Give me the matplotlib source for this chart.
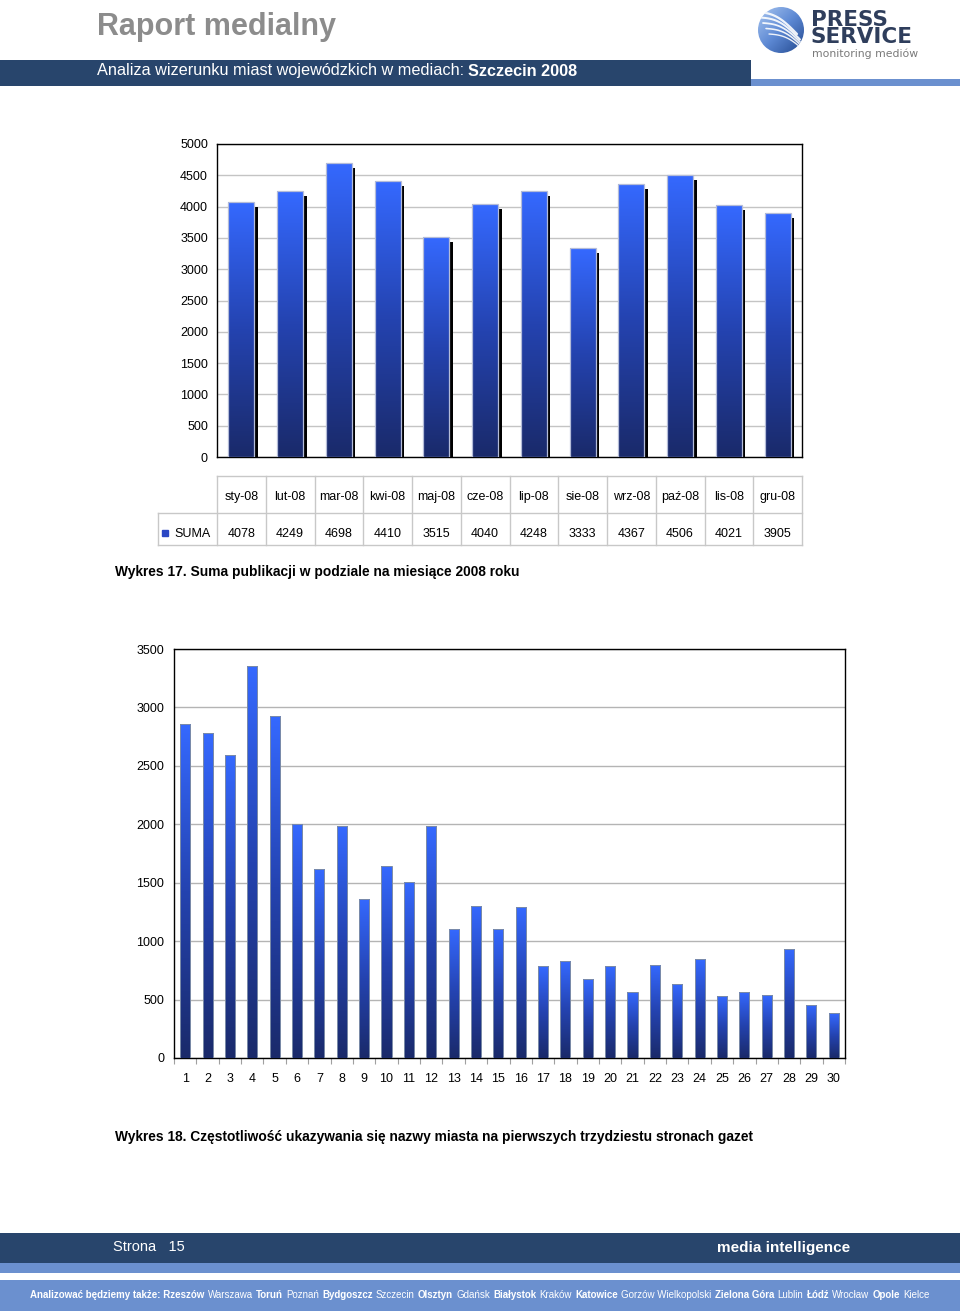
import numpy as np
import matplotlib
matplotlib.use('Agg')
import matplotlib.pyplot as plt
from matplotlib.patches import Rectangle, Circle
from matplotlib.colors import LinearSegmentedColormap
import matplotlib.patheffects as pe
from matplotlib.transforms import blended_transform_factory

plt.rcParams['font.family'] = ['Liberation Sans', 'DejaVu Sans']

# ---------------- data ----------------
months = ['sty-08', 'lut-08', 'mar-08', 'kwi-08', 'maj-08', 'cze-08',
          'lip-08', 'sie-08', 'wrz-08', 'paź-08', 'lis-08', 'gru-08']
suma = [4078, 4249, 4698, 4410, 3515, 4040, 4248, 3333, 4367, 4506, 4021, 3905]
series_name = 'SUMA'
y1_ticks = list(range(0, 5001, 500))

pages = list(range(1, 31))
page_counts = [2858, 2781, 2593, 3354, 2926, 2002, 1617, 1985, 1361, 1643,
               1506, 1985, 1104, 1301, 1104, 1292, 787, 830, 676, 787,
               565, 796, 633, 847, 531, 565, 539, 933, 454, 385]
y2_ticks = list(range(0, 3501, 500))

title = 'Raport medialny'
subtitle_parts = [('Analiza wizerunku miast wojewódzkich w mediach:', 'normal'),
                  ('Szczecin 2008', 'bold')]
caption1 = 'Wykres 17. Suma publikacji w podziale na miesiące 2008 roku'
caption2 = 'Wykres 18. Częstotliwość ukazywania się nazwy miasta na pierwszych trzydziestu stronach gazet'
page_label = 'Strona   15'
slogan = 'media intelligence'
logo_name = 'PRESS\nSERVICE'
logo_tag = 'monitoring mediów'
cities = [('Analizować będziemy także: Rzeszów', 'bold'), ('Warszawa', 'normal'),
          ('Toruń', 'bold'), ('Poznań', 'normal'), ('Bydgoszcz', 'bold'),
          ('Szczecin', 'normal'), ('Olsztyn', 'bold'), ('Gdańsk', 'normal'),
          ('Białystok', 'bold'), ('Kraków', 'normal'), ('Katowice', 'bold'),
          ('Gorzów Wielkopolski', 'normal'), ('Zielona Góra', 'bold'),
          ('Lublin', 'normal'), ('Łódź', 'bold'), ('Wrocław', 'normal'),
          ('Opole', 'bold'), ('Kielce', 'normal')]

# ---------------- styles ----------------
DARK = '#28456c'
LIGHT = '#6b90cf'
W, H = 960, 1314
cmap = LinearSegmentedColormap.from_list('bar', ['#1a2a6a', '#2443b0', '#3569ff'])
grad = np.linspace(0, 1, 256).reshape(-1, 1)

fig = plt.figure(figsize=(W / 100, H / 100), dpi=100)
fig.patch.set_facecolor('white')

bg = fig.add_axes([0, 0, 1, 1], zorder=0)
bg.set_xlim(0, W)
bg.set_ylim(H, 0)
bg.axis('off')


def gradient_bars(ax, bars, zorder):
    for b in bars:
        x, w, h = b.get_x(), b.get_width(), b.get_height()
        im = ax.imshow(grad, extent=[x, x + w, 0, h], origin='lower', cmap=cmap,
                       aspect='auto', zorder=zorder, interpolation='bilinear')
        im.set_clip_path(b)


def chain(first, parts, size, color, gap=3.0):
    """Place text pieces one after another on one line."""
    t = first
    for s, wgt in parts:
        t = bg.annotate(s, xy=(1, 0), xycoords=t, xytext=(gap, 0),
                        textcoords='offset points', fontsize=size, color=color,
                        fontweight=wgt, va='bottom', ha='left')
    return t


# ---------------- header ----------------
bg.text(97, 27, title, fontsize=22, fontweight='bold', color='#8c8c8c',
        va='center', ha='left')
bg.add_patch(Rectangle((0, 60), 751, 26, color=DARK, lw=0))
bg.add_patch(Rectangle((751, 79), W - 751, 7, color=LIGHT, lw=0))
t0 = bg.text(97, 71, subtitle_parts[0][0], fontsize=11.7, color='white',
             fontweight=subtitle_parts[0][1], va='center', ha='left')
chain(t0, subtitle_parts[1:], 11.7, 'white', gap=3.0)

# logo
circ = Circle((781, 30), 23, transform=bg.transData, facecolor='none', edgecolor='none')
bg.add_patch(circ)
lg = np.add.outer(np.linspace(0, 1, 64), np.linspace(0, 1, 64))
logo_cmap = LinearSegmentedColormap.from_list('logo', ['#a9c6f0', '#5d89d4', '#23498f'])
im = bg.imshow(lg, extent=[758, 804, 53, 7], cmap=logo_cmap, aspect='auto',
               interpolation='bilinear', zorder=2)
im.set_clip_path(circ)
for k in range(5):
    tt = np.linspace(0, 1, 30)
    xs = 757 + k * 3.0 + tt * 40
    ys = 12 + k * 5.5 + tt * 22 - np.sin(tt * np.pi) * 6
    ln, = bg.plot(xs, ys, color='white', lw=1.6 - k * 0.15, zorder=3, alpha=0.9,
                  solid_capstyle='round')
    ln.set_clip_path(circ)
bg.text(811, 47, logo_name, fontsize=15.5, fontweight='heavy', color='#2f3e5c',
        family='DejaVu Sans', va='bottom', ha='left', linespacing=0.82)
bg.text(812, 53.5, logo_tag, fontsize=7.8, color='#7a7a7a',
        family='DejaVu Sans', va='center', ha='left')

# ---------------- chart 1 ----------------
ax1 = fig.add_axes([217 / W, 1 - 457 / H, 585 / W, 313 / H], zorder=1)
x1 = np.arange(len(months))
sh = ax1.bar(x1, suma, width=0.53, color='black', zorder=2)
for b in sh:
    b.set_path_effects([pe.SimplePatchShadow(offset=(2.6, -3.6), shadow_rgbFace='black', alpha=1.0)])
gradient_bars(ax1, sh, 3)
ax1.bar(x1, suma, width=0.53, facecolor='none', edgecolor='#b4bcd8', lw=0.9, zorder=4)
ax1.set_xlim(-0.5, len(months) - 0.5)
ax1.set_ylim(0, 5000)
ax1.set_yticks(y1_ticks)
ax1.set_yticklabels([str(v) for v in y1_ticks], fontsize=9)
ax1.set_xticks([])
ax1.tick_params(axis='y', length=0, pad=6.5)
ax1.yaxis.grid(True, color='#c4c4c4', lw=1)
ax1.set_axisbelow(True)
for sp in ax1.spines.values():
    sp.set_color('black')
    sp.set_linewidth(1)

# data table below chart 1
tr = blended_transform_factory(ax1.transData, ax1.transAxes)
y_top, y_mid, y_bot = -0.0607, -0.1789, -0.2812
xL = -1.71
xR = len(months) - 0.5
lc = '#c8c8c8'
ax1.plot([-0.5, xR], [y_top, y_top], color=lc, lw=1, transform=tr, clip_on=False)
ax1.plot([xL, xR], [y_mid, y_mid], color=lc, lw=1, transform=tr, clip_on=False)
ax1.plot([xL, xR], [y_bot, y_bot], color=lc, lw=1, transform=tr, clip_on=False)
for i in range(len(months) + 1):
    xb = -0.5 + i
    ax1.plot([xb, xb], [y_top, y_bot], color=lc, lw=1, transform=tr, clip_on=False)
ax1.plot([xL, xL], [y_mid, y_bot], color=lc, lw=1, transform=tr, clip_on=False)
for i, (m, v) in enumerate(zip(months, suma)):
    ax1.text(i, -0.1275, m, fontsize=9, ha='center', va='center', transform=tr)
    ax1.text(i, -0.2460, str(v), fontsize=9, ha='center', va='center', transform=tr)
ax1.plot([-1.56], [-0.2430], marker='s', ms=5, color='#2b47c4', transform=tr, clip_on=False)
ax1.text(-1.37, -0.2460, series_name, fontsize=9, ha='left', va='center', transform=tr)

bg.text(115, 572, caption1, fontsize=9.9, fontweight='bold', va='center', ha='left')

# ---------------- chart 2 ----------------
ax2 = fig.add_axes([174 / W, 1 - 1058 / H, 671 / W, 409 / H], zorder=1)
x2 = np.arange(len(pages))
b2 = ax2.bar(x2, page_counts, width=0.45, color='#2443b0', zorder=2)
gradient_bars(ax2, b2, 3)
ax2.bar(x2, page_counts, width=0.45, facecolor='none', edgecolor='#7c8ca8', lw=0.7, zorder=4)
ax2.set_xlim(-0.5, len(pages) - 0.5)
ax2.set_ylim(0, 3500)
ax2.set_yticks(y2_ticks)
ax2.set_yticklabels([str(v) for v in y2_ticks], fontsize=9)
ax2.set_xticks(x2)
ax2.set_xticklabels([str(p) for p in pages], fontsize=9)
ax2.set_xticks(np.arange(len(pages) + 1) - 0.5, minor=True)
ax2.tick_params(axis='x', which='major', length=0, pad=10.5)
ax2.tick_params(axis='x', which='minor', length=4, color='#a0a0a0', width=0.8)
ax2.tick_params(axis='y', length=0, pad=7)
ax2.yaxis.grid(True, color='#b4b4b4', lw=1)
ax2.set_axisbelow(True)
for sp in ax2.spines.values():
    sp.set_color('black')
    sp.set_linewidth(1)

bg.text(115, 1137, caption2, fontsize=9.9, fontweight='bold', va='center', ha='left')

# ---------------- footer ----------------
bg.add_patch(Rectangle((0, 1233), W, 30, color=DARK, lw=0))
bg.add_patch(Rectangle((0, 1263), W, 10, color=LIGHT, lw=0))
bg.add_patch(Rectangle((0, 1280), W, 31, color=LIGHT, lw=0))
bg.text(113, 1247, page_label, fontsize=10.5, color='white', va='center', ha='left')
bg.text(850, 1248, slogan, fontsize=11, fontweight='bold', color='white',
        va='center', ha='right')
c0 = bg.text(30, 1295, cities[0][0], fontsize=7, fontweight=cities[0][1],
             color='white', va='center', ha='left')
chain(c0, cities[1:], 7, 'white', gap=2.3)

fig.savefig('out.png', dpi=100, facecolor='white')
